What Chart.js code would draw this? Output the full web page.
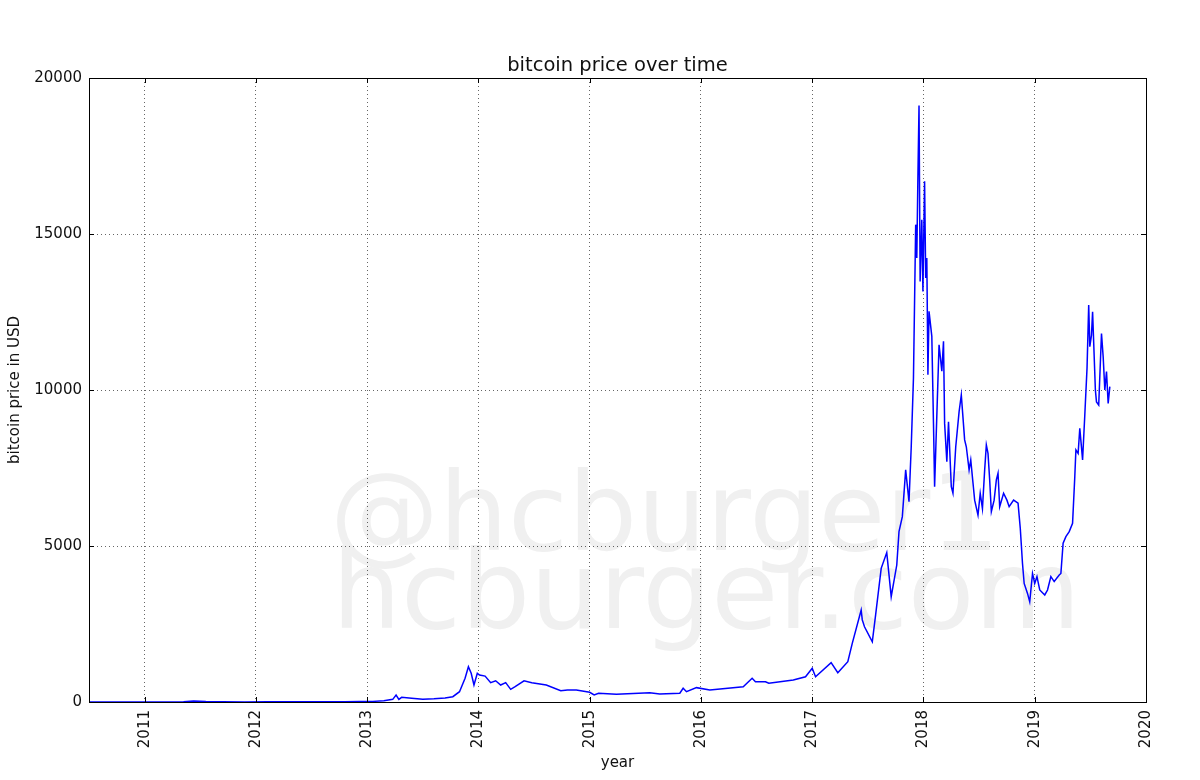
<!DOCTYPE html>
<html lang="en">
<head>
    <meta charset="UTF-8">
    <title>bitcoin price over time</title>
    <script src="https://cdn.jsdelivr.net/npm/chart.js"></script>
    <style>
        body { margin: 0; background: #fff; }
        #btcChart { display: block; }
    </style>
</head>
<body>
    <canvas id="btcChart" width="1200" height="780"></canvas>

    <script>
        // fecha como año decimal y precio en USD
        const years = [
            2010.50, 2010.80, 2011.00, 2011.20, 2011.35, 2011.44, 2011.55, 2011.70, 2011.90,
            2012.10, 2012.40, 2012.60, 2012.80, 2012.93,
            2013.05, 2013.15, 2013.23, 2013.26, 2013.285, 2013.31, 2013.40, 2013.50, 2013.60,
            2013.70, 2013.77, 2013.83, 2013.88, 2013.91, 2013.935, 2013.96, 2013.99,
            2014.01, 2014.06, 2014.11, 2014.155, 2014.20, 2014.245, 2014.29, 2014.33, 2014.41,
            2014.48, 2014.61, 2014.74, 2014.80, 2014.88,
            2015.00, 2015.04, 2015.08, 2015.24, 2015.54, 2015.63, 2015.81, 2015.84, 2015.87, 2015.96,
            2016.08, 2016.38, 2016.46, 2016.49, 2016.58, 2016.61, 2016.83, 2016.94,
            2017.00, 2017.03, 2017.17, 2017.23, 2017.32, 2017.36, 2017.44, 2017.45, 2017.47,
            2017.54, 2017.57, 2017.62, 2017.67, 2017.71, 2017.76, 2017.78, 2017.81, 2017.84,
            2017.87, 2017.89, 2017.91, 2017.93, 2017.94, 2017.95, 2017.96, 2017.97, 2017.985, 2017.995,
            2018.01, 2018.02, 2018.03, 2018.04, 2018.05, 2018.075, 2018.09, 2018.10, 2018.115,
            2018.14, 2018.165, 2018.18, 2018.19, 2018.21, 2018.225, 2018.25, 2018.265, 2018.29,
            2018.32, 2018.34, 2018.37, 2018.385, 2018.41, 2018.425, 2018.46, 2018.49, 2018.51,
            2018.53, 2018.55, 2018.565, 2018.58, 2018.595, 2018.61, 2018.635, 2018.655, 2018.67,
            2018.685, 2018.72, 2018.75, 2018.77, 2018.81, 2018.85, 2018.87, 2018.89, 2018.905,
            2018.935, 2018.955, 2018.98,
            2019.00, 2019.02, 2019.045, 2019.09, 2019.115, 2019.145, 2019.175, 2019.22, 2019.235,
            2019.255, 2019.28, 2019.31, 2019.34, 2019.36, 2019.37, 2019.39, 2019.405, 2019.43,
            2019.45, 2019.47, 2019.485, 2019.495, 2019.51, 2019.52, 2019.545, 2019.555, 2019.575,
            2019.60, 2019.615, 2019.63, 2019.645, 2019.66, 2019.675
        ];

        const prices = [
            0.07, 0.2, 0.3, 1, 8, 30, 14, 5, 3,
            5, 5, 11, 12, 13,
            20, 40, 85, 220, 85, 150, 120, 90, 105,
            130, 170, 330, 760, 1130, 920, 545, 920,
            865, 830, 620, 680, 545, 620, 405, 490, 680,
            620, 545, 360, 385, 385,
            310, 225, 280, 245, 300, 255, 280, 440, 330, 460,
            385, 490, 760, 650, 650, 600, 705, 810,
            1080, 810, 1260, 940, 1290, 1880, 2950, 2630, 2410,
            1930, 2790, 4285, 4790, 3375, 4390, 5460, 5940, 7440,
            6420, 8180, 10380, 15300, 14230, 16850, 19120, 13480, 15460, 13160,
            16690, 13590, 14230, 10490, 12520, 11720, 8930, 6900, 8610,
            11450, 10600, 11560, 8930, 7700, 8985, 6900, 6690, 8180,
            9300, 9840, 8400, 8180, 7440, 7760, 6470, 5990, 6690,
            6200, 7440, 8240, 7970, 7120, 6100, 6470, 7120, 7330,
            6260, 6690, 6470, 6260, 6470, 6370, 5570, 4440, 3800,
            3480, 3210, 4120,
            3800, 4020, 3590, 3430, 3590, 4020, 3860, 4070, 4120,
            5090, 5300, 5460, 5730, 7220, 8080, 7970, 8770, 7760,
            9200, 10700, 12720, 11390, 11760, 12510, 10000, 9620, 9520,
            11810, 11070, 10000, 10590, 9570, 10110
        ];

        const yTicks = [0, 5000, 10000, 15000, 20000];
        const xTicks = [2011, 2012, 2013, 2014, 2015, 2016, 2017, 2018, 2019, 2020];

        const FONT = 'DejaVu Sans';

        // marca de agua, marco y ticks hacia adentro (estilo matplotlib)
        const decor = {
            id: 'decor',
            beforeDraw(chart) {
                const ctx = chart.ctx;
                ctx.save();
                ctx.fillStyle = '#fff';
                ctx.fillRect(0, 0, chart.width, chart.height);
                ctx.fillStyle = '#f0f0f0';
                ctx.font = '109px "' + FONT + '"';
                ctx.textAlign = 'left';
                ctx.textBaseline = 'alphabetic';
                ctx.fillText('@hcburger1', 330, 550);
                ctx.fillText('hcburger.com', 332, 628);
                ctx.restore();
            },
            afterDraw(chart) {
                const ctx = chart.ctx;
                const a = chart.chartArea;
                const xs = chart.scales.x, ys = chart.scales.y;
                ctx.save();
                ctx.strokeStyle = '#000';
                ctx.lineWidth = 1;
                ctx.strokeRect(a.left + 0.5, a.top + 0.5, a.right - a.left, a.bottom - a.top);
                ctx.beginPath();
                xTicks.forEach(v => {
                    const px = Math.round(xs.getPixelForValue(v)) + 0.5;
                    ctx.moveTo(px, a.bottom); ctx.lineTo(px, a.bottom - 5);
                    ctx.moveTo(px, a.top); ctx.lineTo(px, a.top + 5);
                });
                yTicks.forEach(v => {
                    const py = Math.round(ys.getPixelForValue(v)) + 0.5;
                    ctx.moveTo(a.left, py); ctx.lineTo(a.left + 5, py);
                    ctx.moveTo(a.right, py); ctx.lineTo(a.right - 5, py);
                });
                ctx.stroke();
                ctx.fillStyle = '#111';
                ctx.font = '19.5px "' + FONT + '"';
                ctx.textAlign = 'center';
                ctx.textBaseline = 'alphabetic';
                ctx.fillText('bitcoin price over time', (a.left + a.right) / 2, 71);
                ctx.restore();
            }
        };

        const ctx = document.getElementById('btcChart').getContext('2d');
        const btcChart = new Chart(ctx, {
            type: 'line',
            data: {
                datasets: [{
                    data: years.map((x, i) => ({ x: x, y: prices[i] })),
                    borderColor: '#0000ff',
                    borderWidth: 1.5,
                    pointRadius: 0,
                    tension: 0,
                    fill: false
                }]
            },
            options: {
                responsive: false,
                animation: false,
                layout: { padding: { top: 78, right: 54, left: 0, bottom: 0 } },
                plugins: {
                    legend: { display: false },
                    tooltip: { enabled: false }
                },
                scales: {
                    x: {
                        type: 'linear',
                        min: 2010.5,
                        max: 2020,
                        afterBuildTicks: s => { s.ticks = xTicks.map(v => ({ value: v })); },
                        afterFit: s => { s.height = 78; },
                        ticks: {
                            stepSize: 1,
                            autoSkip: false,
                            minRotation: 90,
                            maxRotation: 90,
                            padding: 8,
                            color: '#111',
                            font: { family: FONT, size: 15 },
                            callback: v => String(v)
                        },
                        grid: { color: 'rgba(0,0,0,0.6)', lineWidth: 1, drawTicks: false },
                        border: { display: false, dash: [1, 3] },
                        title: {
                            display: true,
                            text: 'year',
                            color: '#111',
                            font: { family: FONT, size: 15 },
                            padding: { top: 0, bottom: 8 }
                        }
                    },
                    y: {
                        min: 0,
                        max: 20000,
                        afterBuildTicks: s => { s.ticks = yTicks.map(v => ({ value: v })); },
                        afterFit: s => { s.width = 89; },
                        ticks: {
                            padding: 7,
                            color: '#111',
                            font: { family: FONT, size: 15 },
                            callback: v => String(v)
                        },
                        grid: { color: 'rgba(0,0,0,0.6)', lineWidth: 1, drawTicks: false },
                        border: { display: false, dash: [1, 3] },
                        title: {
                            display: true,
                            text: 'bitcoin price in USD',
                            color: '#111',
                            font: { family: FONT, size: 15 },
                            padding: { top: 6, bottom: 0 }
                        }
                    }
                }
            },
            plugins: [decor]
        });
    </script>
</body>
</html>
